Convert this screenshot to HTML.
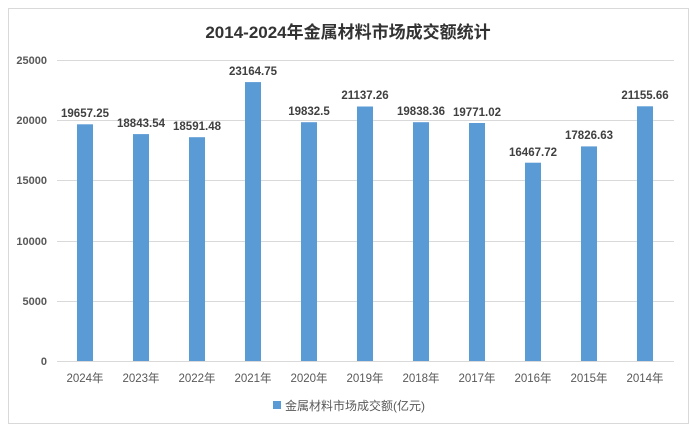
<!DOCTYPE html>
<html><head><meta charset="utf-8"><style>
body{margin:0;background:#fff;}
</style></head><body>
<svg width="697" height="433" xmlns="http://www.w3.org/2000/svg" style="display:block;font-family:'Liberation Sans','Noto Sans CJK SC',sans-serif">
<rect x="0" y="0" width="697" height="433" fill="#fff"/>
<rect x="8.5" y="8.5" width="680" height="415" fill="#fff" stroke="#d9d9d9"/>
<text x="348" y="38" text-anchor="middle" font-size="17" font-weight="bold" fill="#333">2014-2024年金属材料市场成交额统计</text>
<g stroke="#d9d9d9" stroke-width="1">
<line x1="57" x2="674" y1="60.5" y2="60.5"/>
<line x1="57" x2="674" y1="120.5" y2="120.5"/>
<line x1="57" x2="674" y1="180.5" y2="180.5"/>
<line x1="57" x2="674" y1="241.5" y2="241.5"/>
<line x1="57" x2="674" y1="301.5" y2="301.5"/>
<line x1="57" x2="674" y1="361.5" y2="361.5"/>
</g>
<g font-size="11" fill="#595959" text-anchor="end" font-weight="bold">
<text x="47" y="64">25000</text>
<text x="47" y="124">20000</text>
<text x="47" y="184">15000</text>
<text x="47" y="245">10000</text>
<text x="47" y="305">5000</text>
<text x="47" y="365">0</text>
</g>
<g fill="#5b9bd5">
<rect x="77" y="124.3" width="16" height="236.7"/>
<rect x="133" y="134.1" width="16" height="226.9"/>
<rect x="189" y="137.2" width="16" height="223.8"/>
<rect x="245" y="82.1" width="16" height="278.9"/>
<rect x="301" y="122.2" width="16" height="238.8"/>
<rect x="357" y="106.5" width="16" height="254.5"/>
<rect x="413" y="122.2" width="16" height="238.8"/>
<rect x="469" y="123" width="16" height="238"/>
<rect x="525" y="162.7" width="16" height="198.3"/>
<rect x="581" y="146.4" width="16" height="214.6"/>
<rect x="637" y="106.3" width="16" height="254.7"/>
</g>
<g font-size="11.5" font-weight="bold" fill="#404040" text-anchor="middle">
<text x="85" y="117">19657.25</text>
<text x="141" y="127">18843.54</text>
<text x="197" y="130">18591.48</text>
<text x="253" y="75">23164.75</text>
<text x="309" y="115">19832.5</text>
<text x="365" y="99">21137.26</text>
<text x="421" y="115">19838.36</text>
<text x="477" y="116">19771.02</text>
<text x="533" y="156">16467.72</text>
<text x="589" y="139">17826.63</text>
<text x="645" y="99">21155.66</text>
</g>
<g font-size="11.5" fill="#595959" text-anchor="middle">
<text x="85" y="382">2024年</text>
<text x="141" y="382">2023年</text>
<text x="197" y="382">2022年</text>
<text x="253" y="382">2021年</text>
<text x="309" y="382">2020年</text>
<text x="365" y="382">2019年</text>
<text x="421" y="382">2018年</text>
<text x="477" y="382">2017年</text>
<text x="533" y="382">2016年</text>
<text x="589" y="382">2015年</text>
<text x="645" y="382">2014年</text>
</g>
<rect x="273" y="401" width="8" height="8" fill="#5b9bd5"/>
<text x="285" y="410" font-size="12" fill="#595959">金属材料市场成交额(亿元)</text>
</svg>
</body></html>
